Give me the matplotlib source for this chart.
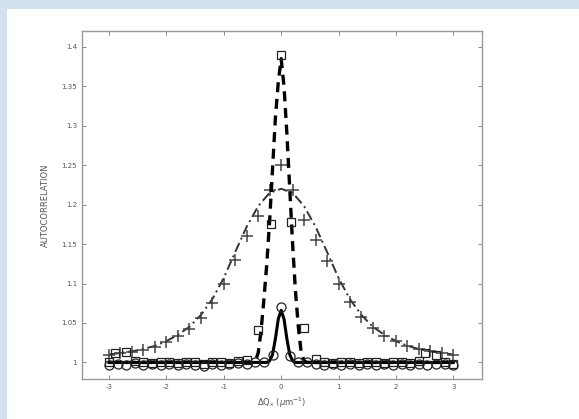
import numpy as np
import matplotlib
matplotlib.use('Agg')
import matplotlib.pyplot as plt

# broad peak: measured points (+) and fitted curve (dash-dot)
xb = [-3.0, -2.8, -2.6, -2.4, -2.2, -2.0, -1.8, -1.6, -1.4, -1.2, -1.0, -0.8, -0.6, -0.4, -0.2, 0.0,
      0.2, 0.4, 0.6, 0.8, 1.0, 1.2, 1.4, 1.6, 1.8, 2.0, 2.2, 2.4, 2.6, 2.8, 3.0]
yb_pts = [1.010, 1.012, 1.013, 1.016, 1.020, 1.026, 1.033, 1.042, 1.056, 1.075, 1.100, 1.130, 1.160, 1.185,
          1.218, 1.250, 1.218, 1.180, 1.155, 1.128, 1.100, 1.076, 1.058, 1.043, 1.033, 1.027, 1.021, 1.017,
          1.014, 1.012, 1.010]
yb_fit = [1.010, 1.012, 1.014, 1.017, 1.021, 1.027, 1.035, 1.045, 1.060, 1.080, 1.107, 1.140, 1.172, 1.198,
          1.215, 1.220, 1.215, 1.198, 1.172, 1.140, 1.107, 1.080, 1.060, 1.045, 1.035, 1.027, 1.021, 1.017,
          1.014, 1.012, 1.010]

# narrow peak: fitted curve (dashed) and points (squares)
xn_fit = [-3.0, -0.5, -0.45, -0.4, -0.35, -0.3, -0.25, -0.2, -0.15, -0.1, -0.05, 0.0,
          0.05, 0.1, 0.15, 0.2, 0.25, 0.3, 0.35, 0.4, 0.45, 3.0]
yn_fit = [1.0, 1.0, 1.002, 1.012, 1.04, 1.08, 1.125, 1.18, 1.245, 1.31, 1.355, 1.385,
          1.35, 1.29, 1.22, 1.15, 1.09, 1.045, 1.012, 1.002, 1.0, 1.0]
xn_pts = [-3.0, -2.9, -2.7, -2.55, -2.4, -2.25, -2.1, -1.95, -1.8, -1.65, -1.5, -1.35, -1.2, -1.05, -0.9,
          -0.75, -0.6, -0.4, -0.18, 0.0, 0.17, 0.4, 0.6, 0.75, 0.9, 1.05, 1.2, 1.35, 1.5, 1.65, 1.8, 1.95,
          2.1, 2.25, 2.4, 2.5, 2.7, 2.85, 3.0]
yn_pts = [1.000, 1.012, 1.013, 1.002, 1.001, 0.999, 1.001, 1.000, 0.999, 1.001, 1.000, 0.998, 1.000, 1.001,
          0.999, 1.002, 1.003, 1.041, 1.175, 1.39, 1.178, 1.043, 1.004, 1.001, 0.999, 1.000, 1.001, 0.999,
          1.000, 1.001, 0.999, 1.000, 1.001, 0.999, 1.002, 1.012, 1.010, 1.001, 0.998]

# small peak: fitted curve (solid) and points (circles)
xs_fit = [-3.0, -0.25, -0.2, -0.15, -0.1, -0.05, 0.0, 0.05, 0.1, 0.15, 0.2, 0.25, 3.0]
ys_fit = [1.0, 1.0, 1.002, 1.01, 1.03, 1.055, 1.066, 1.055, 1.03, 1.01, 1.002, 1.0, 1.0]
xs_pts = [-3.0, -2.85, -2.7, -2.55, -2.4, -2.25, -2.1, -1.95, -1.8, -1.65, -1.5, -1.35, -1.2, -1.05, -0.9,
          -0.75, -0.6, -0.45, -0.3, -0.15, 0.0, 0.15, 0.3, 0.45, 0.6, 0.75, 0.9, 1.05, 1.2, 1.35, 1.5, 1.65,
          1.8, 1.95, 2.1, 2.25, 2.4, 2.55, 2.7, 2.85, 3.0]
ys_pts = [0.997, 0.998, 0.997, 0.999, 0.997, 0.998, 0.997, 0.998, 0.997, 0.998, 0.997, 0.996, 0.998, 0.997,
          0.998, 0.999, 0.998, 1.000, 1.001, 1.010, 1.070, 1.008, 1.001, 1.000, 0.998, 0.997, 0.998, 0.997,
          0.998, 0.997, 0.998, 0.997, 0.998, 0.997, 0.998, 0.997, 0.998, 0.997, 0.998, 0.998, 0.997]

xticks = [-3, -2, -1, 0, 1, 2, 3]
yticks = [1, 1.05, 1.1, 1.15, 1.2, 1.25, 1.3, 1.35, 1.4]
ytick_labels = ['1', '1.05', '1.1', '1.15', '1.2', '1.25', '1.3', '1.35', '1.4']

fig = plt.figure(figsize=(5.79, 4.19), dpi=100, facecolor='#d3e1ef')
# white panel behind the plot
bg = fig.add_axes([7/579, 0, 1, 1 - 9/419], zorder=0)
bg.set_axis_off()
bg.add_patch(plt.Rectangle((0, 0), 1, 1, transform=bg.transAxes, color='white'))

ax = fig.add_axes([82/579, 40/419, 400/579, 348/419], zorder=1)

ax.plot(xb, yb_fit, linestyle='-.', color='#333333', lw=1.4, dashes=(5, 2, 1, 2))
ax.plot(xb, yb_pts, '+', color='#444444', ms=8, mew=1.1)
ax.plot(xn_fit, yn_fit, '--', color='black', lw=2.4, dashes=(3, 2))
ax.plot(xn_pts, yn_pts, 's', mfc='none', mec='#222222', ms=6, mew=0.9)
ax.plot(xs_fit, ys_fit, '-', color='black', lw=2.2)
ax.plot(xs_pts, ys_pts, 'o', mfc='none', mec='#222222', ms=6.5, mew=0.9)

ax.set_xlim(-3.47, 3.5)
ax.set_ylim(0.979, 1.42)
ax.set_xticks(xticks)
ax.set_xticklabels([str(v) for v in xticks])
ax.set_yticks(yticks)
ax.set_yticklabels(ytick_labels)
ax.tick_params(direction='in', top=True, right=True, length=3, width=0.6,
               colors='#777777', labelsize=5, labelcolor='#555555')
for s in ax.spines.values():
    s.set_color('#999999')
    s.set_linewidth(1.0)

ax.set_xlabel(r'$\Delta$Q$_x$ ($\mu$m$^{-1}$)', fontsize=6, color='#555555', labelpad=4)
ax.set_ylabel('AUTOCORRELATION', fontsize=6, color='#555555', labelpad=8)

fig.savefig('out.png', dpi=100, facecolor=fig.get_facecolor())
